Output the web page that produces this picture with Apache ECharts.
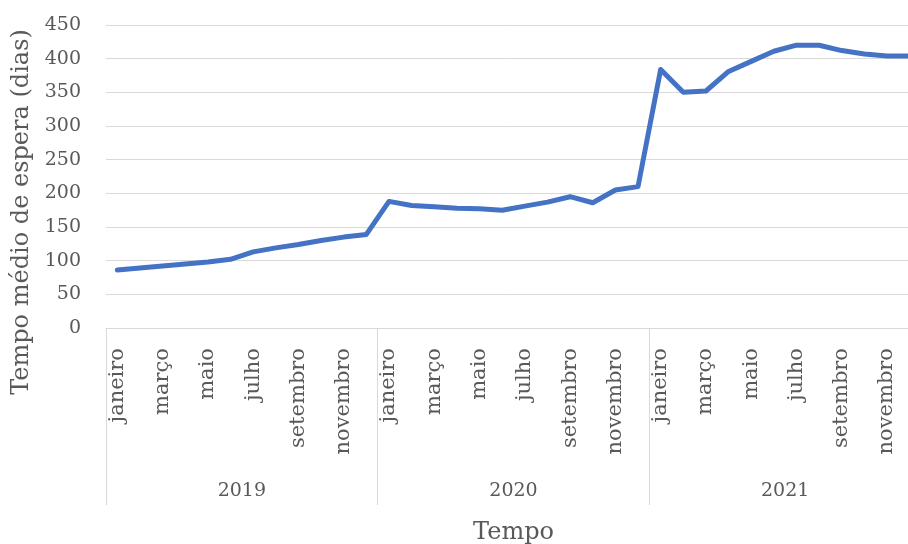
<!DOCTYPE html>
<html>
<head>
<meta charset="utf-8">
<script src="https://cdn.jsdelivr.net/npm/echarts@6/dist/echarts.min.js"></script>
<style>
  html, body { margin: 0; padding: 0; background: #fff; }
  #chart { width: 908px; height: 544px; }
</style>
</head>
<body>
<div id="chart"></div>
<script>
// Monthly average waiting time (days), January 2019 to December 2021
const months = ['janeiro', 'fevereiro', 'março', 'abril', 'maio', 'junho',
  'julho', 'agosto', 'setembro', 'outubro', 'novembro', 'dezembro'];
const years = ['2019', '2020', '2021'];
const wait2019 = [86, 89, 92, 95, 98, 102, 113, 119, 124, 130, 135, 139];
const wait2020 = [188, 182, 180, 178, 177, 175, 181, 187, 195, 186, 205, 210];
const wait2021 = [384, 350, 352, 381, 396, 411, 420, 420, 412, 407, 404, 404];
const yTicks = { min: 0, max: 450, step: 50 };

const monthCategories = [];
years.forEach(() => months.forEach(m => monthCategories.push(m)));
const values = wait2019.concat(wait2020, wait2021);

const FONT = 'DejaVu Serif';
const TEXT = '#595959';
const GRID = '#d9d9d9';

const chart = echarts.init(document.getElementById('chart'));
chart.setOption({
  backgroundColor: '#ffffff',
  animation: false,
  // the last year runs slightly past the right edge of the page
  grid: {
    left: 106, top: 25, width: 815, height: 303,
    containLabel: false,
    outerBoundsMode: 'none'
  },
  xAxis: [
    {
      type: 'category',
      data: monthCategories,
      boundaryGap: true,
      axisLine: { show: true, lineStyle: { color: GRID, width: 1 } },
      axisTick: { show: false },
      axisLabel: {
        interval: 1,
        rotate: 90,
        margin: 20,
        color: TEXT,
        fontFamily: FONT,
        fontSize: 21
      },
      splitLine: { show: false }
    },
    {
      type: 'category',
      data: years,
      position: 'bottom',
      boundaryGap: true,
      axisLine: { show: false },
      axisTick: { show: true, length: 177, lineStyle: { color: GRID, width: 1 } },
      axisLabel: {
        margin: 154,
        color: TEXT,
        fontFamily: FONT,
        fontSize: 19
      },
      name: 'Tempo',
      nameLocation: 'middle',
      nameGap: 193,
      nameTextStyle: { color: TEXT, fontFamily: FONT, fontSize: 24 }
    }
  ],
  yAxis: {
    type: 'value',
    min: yTicks.min,
    max: yTicks.max,
    interval: yTicks.step,
    axisLine: { show: false },
    axisTick: { show: false },
    axisLabel: { margin: 25, color: TEXT, fontFamily: FONT, fontSize: 19 },
    splitLine: { lineStyle: { color: GRID, width: 1 } }
  },
  graphic: [{
    type: 'text',
    x: 22,
    y: 212,
    rotation: Math.PI / 2,
    style: {
      text: 'Tempo médio de espera (dias)',
      fill: TEXT,
      font: '24px "' + FONT + '"',
      textAlign: 'center',
      textVerticalAlign: 'middle'
    }
  }],
  series: [{
    type: 'line',
    xAxisIndex: 0,
    data: values,
    showSymbol: false,
    symbol: 'none',
    lineStyle: { color: '#4472C4', width: 5, join: 'round', cap: 'round' },
    itemStyle: { color: '#4472C4' }
  }]
});
</script>
</body>
</html>
